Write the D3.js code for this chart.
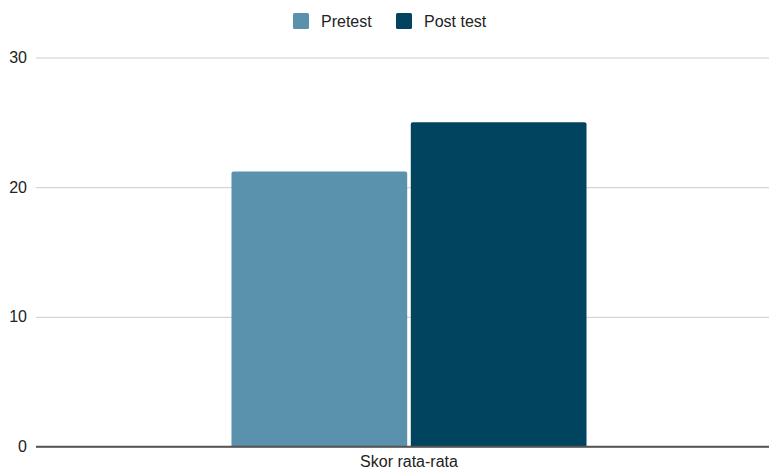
<!DOCTYPE html>
<html>
<head>
<meta charset="utf-8">
<script src="https://cdnjs.cloudflare.com/ajax/libs/d3/7.8.5/d3.min.js"></script>
<style>
  body { margin: 0; background: #fff; }
  text { font-family: Arial, "Liberation Sans", sans-serif; fill: #222; }
</style>
</head>
<body>
<script>
(function(){

//chart data
var categories = ["Skor rata-rata"];
var seriesNames = ["Pretest", "Post test"];
var pretestValues = [21.2];
var posttestValues = [25];
var yTicks = [0, 10, 20, 30];
var colors = ["#5a91ad", "#01445f"];

var width = 769,
    height = 471;

var svg = d3.select("body")
  .append("svg")
  .attr("width", width)
  .attr("height", height);

//scales
var y = d3.scaleLinear()
  .domain([0, 30])
  .range([446.5, 57.5]);

var x0 = d3.scaleBand()
  .domain(categories)
  .range([38, 780])
  .paddingInner(0)
  .paddingOuter(0.545);

var x1 = d3.scaleBand()
  .domain(seriesNames)
  .range([0, x0.bandwidth()])
  .paddingInner(0.02);

//gridlines + labels
var yAxis = d3.axisLeft(y)
  .tickValues(yTicks)
  .tickSize(-(769 - 36))
  .tickPadding(9);

var gy = svg.append("g")
  .attr("transform", "translate(36,0)")
  .call(yAxis);
gy.select(".domain").remove();
gy.selectAll(".tick line")
  .attr("stroke", function(d){ return d === 0 ? "#555" : "#ccc"; })
  .attr("stroke-width", function(d){ return d === 0 ? 1.3 : 1; });
gy.selectAll(".tick text")
  .style("font-size", "16px")
  .attr("fill", "#222");

//bars
var rows = categories.map(function(c, i){
  return { cat: c, vals: [pretestValues[i], posttestValues[i]] };
});

var groups = svg.selectAll(".grp")
  .data(rows)
  .enter()
  .append("g")
  .attr("class", "grp")
  .attr("transform", function(d){ return "translate(" + x0(d.cat) + ",0)"; });

groups.selectAll("path")
  .data(function(d){
    return d.vals.map(function(v, j){ return { name: seriesNames[j], v: v, j: j }; });
  })
  .enter()
  .append("path")
  .attr("fill", function(d){ return colors[d.j]; })
  .attr("d", function(d){
    var x = x1(d.name), w = x1.bandwidth(), top = y(d.v), bot = y(0), r = 2;
    return "M" + x + "," + bot +
      "V" + (top + r) +
      "Q" + x + "," + top + " " + (x + r) + "," + top +
      "H" + (x + w - r) +
      "Q" + (x + w) + "," + top + " " + (x + w) + "," + (top + r) +
      "V" + bot + "Z";
  });

//redraw baseline on top of bars
svg.append("line")
  .attr("x1", 36).attr("x2", 769)
  .attr("y1", y(0)).attr("y2", y(0))
  .attr("stroke", "#555")
  .attr("stroke-width", 1.3);

//x labels
svg.selectAll(".xlab")
  .data(categories)
  .enter()
  .append("text")
  .attr("class", "xlab")
  .attr("x", function(d){ return x0(d) + x0.bandwidth() / 2; })
  .attr("y", 467)
  .attr("text-anchor", "middle")
  .style("font-size", "16px")
  .text(function(d){ return d; });

//legend
var legendX = [293, 396];
var legend = svg.selectAll(".leg")
  .data(seriesNames)
  .enter()
  .append("g")
  .attr("class", "leg")
  .attr("transform", function(d, i){ return "translate(" + legendX[i] + ",13)"; });

legend.append("rect")
  .attr("width", 16)
  .attr("height", 16)
  .attr("rx", 1.5)
  .attr("fill", function(d, i){ return colors[i]; });

legend.append("text")
  .attr("x", 28)
  .attr("y", 13.5)
  .style("font-size", "16px")
  .text(function(d){ return d; });

})();
</script>
</body>
</html>
